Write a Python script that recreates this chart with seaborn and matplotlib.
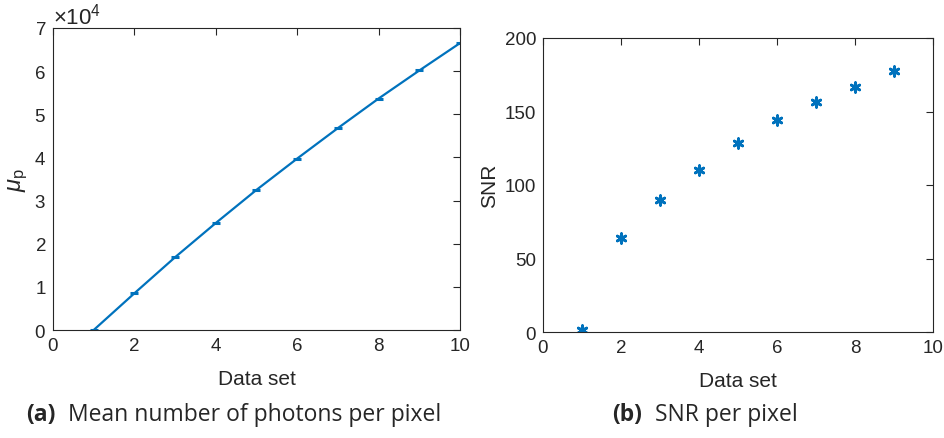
import matplotlib
matplotlib.use("Agg")
import matplotlib.pyplot as plt
import seaborn as sns
import pandas as pd
from matplotlib.ticker import ScalarFormatter

# Data
datasets_a = [1, 2, 3, 4, 5, 6, 7, 8, 9, 10]
mean_photons = [0, 8510, 16870, 24800, 32480, 39740, 46800, 53650, 60150, 66500]
datasets_b = [1, 2, 3, 4, 5, 6, 7, 8, 9]
snr = [1.4, 63.9, 89.8, 110.4, 128.4, 144.3, 156.6, 166.8, 177.7]

xlabel = "Data set"
caption_a_label = "(a)"
caption_a_text = "Mean number of photons per pixel"
caption_b_label = "(b)"
caption_b_text = "SNR per pixel"

sns.set_theme(style="white")
plt.rcParams['font.family'] = ['Liberation Sans', 'DejaVu Sans']
plt.rcParams['mathtext.fontset'] = 'custom'
plt.rcParams['mathtext.rm'] = 'Liberation Sans'
plt.rcParams['mathtext.it'] = 'Liberation Sans:italic'

blue = '#0072BD'
axc = '#262626'

W, H = 945, 439
fig = plt.figure(figsize=(W / 100, H / 100), dpi=100)

def box(l, r, t, b):
    return [l / W, 1 - b / H, (r - l) / W, (b - t) / H]

ax1 = fig.add_axes(box(53, 460, 29, 331))
ax2 = fig.add_axes(box(543, 933, 39, 333))

df_a = pd.DataFrame({"x": datasets_a, "y": mean_photons})
df_b = pd.DataFrame({"x": datasets_b, "y": snr})

sns.lineplot(data=df_a, x="x", y="y", ax=ax1, color=blue, linewidth=1.6,
             marker='_', markersize=6, markeredgewidth=2.2, markeredgecolor=blue)
sns.scatterplot(data=df_b, x="x", y="y", ax=ax2, color=blue, marker=(6, 2, 0),
                s=48, linewidth=2.0, edgecolor=blue)

for ax in (ax1, ax2):
    ax.set_xlim(0, 10)
    ax.set_xticks(range(0, 11, 2))
    ax.tick_params(direction='in', top=True, right=True, length=5, width=0.8,
                   labelsize=13.5, colors=axc, pad=5)
    for s in ax.spines.values():
        s.set_color(axc)
        s.set_linewidth(0.8)
    ax.set_xlabel(xlabel, fontsize=15, color=axc, labelpad=11)
    ax.grid(False)

ax1.set_ylim(0, 70000)
ax1.set_yticks(range(0, 70001, 10000))
fmt = ScalarFormatter(useMathText=True)
fmt.set_powerlimits((0, 0))
ax1.yaxis.set_major_formatter(fmt)
ax1.yaxis.get_offset_text().set_fontsize(16)
ax1.yaxis.get_offset_text().set_color(axc)
ax1.set_ylabel(r'$\mathit{\mu}_{\mathrm{p}}$', fontsize=17, color=axc, labelpad=3)

ax2.set_ylim(0, 200)
ax2.set_yticks(range(0, 201, 50))
ax2.set_ylabel("SNR", fontsize=15, color=axc, labelpad=4)

cap_font = ['Open Sans', 'DejaVu Sans']
cy = 1 - 415 / H
fig.text(26 / W, cy, caption_a_label, fontsize=16.5, fontweight='bold',
         family=cap_font, va='center', ha='left')
fig.text(68 / W, cy, caption_a_text, fontsize=16.5,
         family=cap_font, va='center', ha='left')
fig.text(612 / W, cy, caption_b_label, fontsize=16.5, fontweight='bold',
         family=cap_font, va='center', ha='left')
fig.text(655 / W, cy, caption_b_text, fontsize=16.5,
         family=cap_font, va='center', ha='left')

fig.savefig("out.png", dpi=100)
